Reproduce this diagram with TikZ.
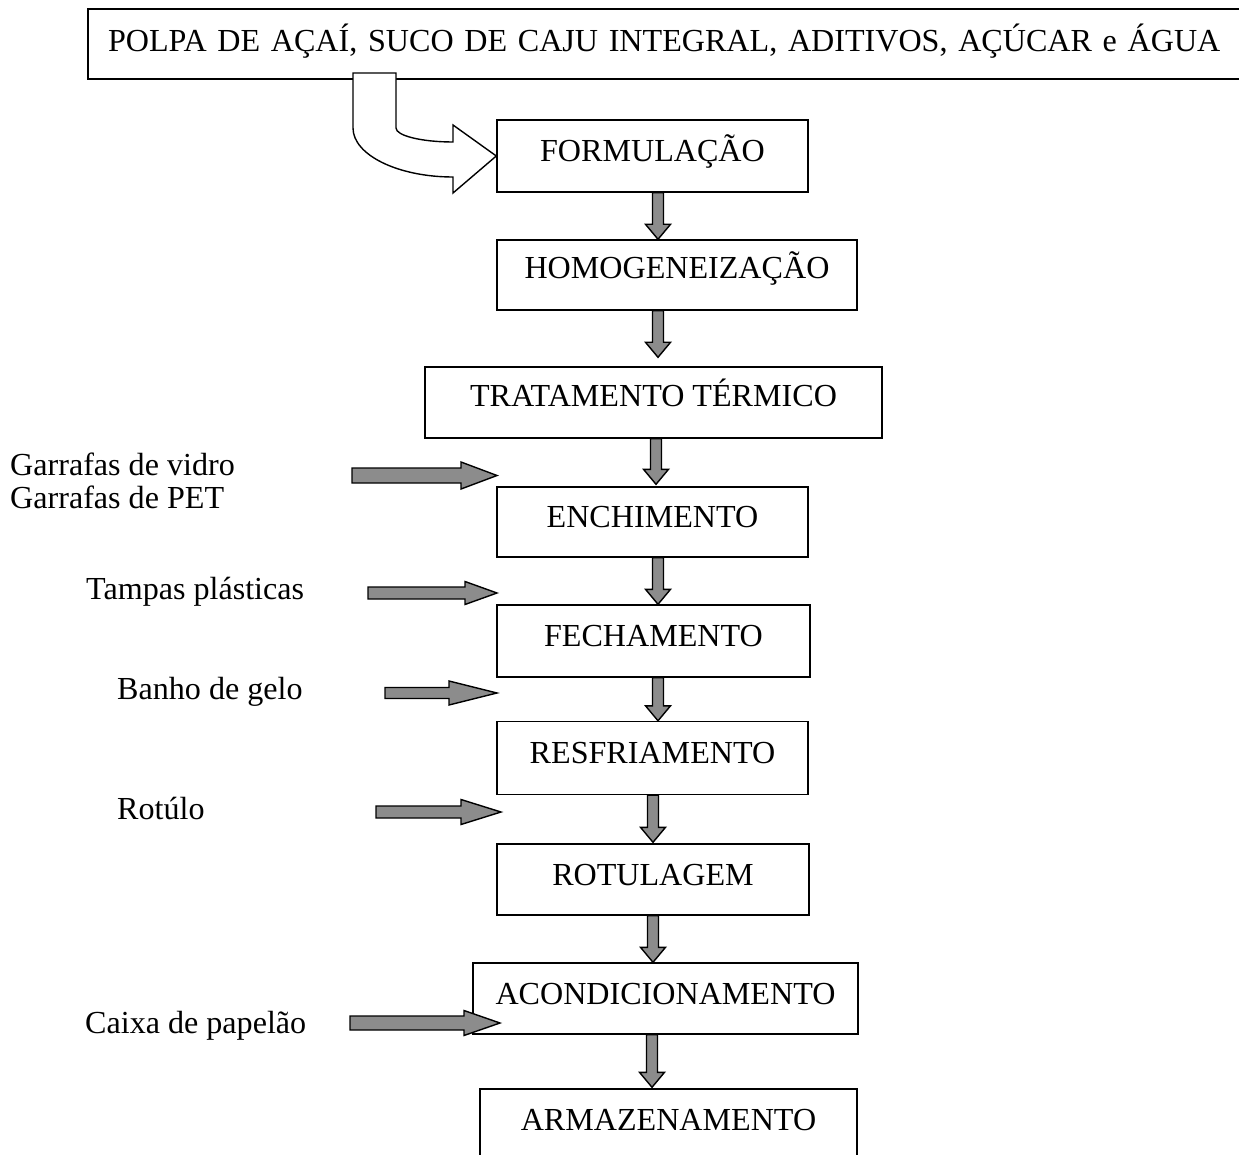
\documentclass[tikz,border=0pt]{standalone}
\usepackage{fontspec}
\setmainfont{Liberation Serif}
\usetikzlibrary{calc}
\definecolor{arrgray}{RGB}{140,140,140}
\newcommand\DnArr[4]{%
 \filldraw[blockarr] let \p1=(#2.south), \p2=(#3.north) in
 (#1pt-5.5pt,\y1) -- (#1pt+5.5pt,\y1) -- (#1pt+5.5pt,\y2+15pt+#4pt) -- (#1pt+12.5pt,\y2+15pt+#4pt)
 -- (#1pt,\y2+#4pt) -- (#1pt-12.5pt,\y2+15pt+#4pt) -- (#1pt-5.5pt,\y2+15pt+#4pt) -- cycle;}
\newcommand\RtArr[6]{% tailx tipx y shafthalf headhalf headlen
 \coordinate (tl) at (#1,#3); \coordinate (tp) at (#2,#3);
 \filldraw[blockarr] (#1,#3-#4) -- (#2-#6,#3-#4) -- (#2-#6,#3-#5) -- (tp)
 -- (#2-#6,#3+#5) -- (#2-#6,#3+#4) -- (#1,#3+#4) -- cycle;}
\begin{document}
\begin{tikzpicture}[x=1pt,y=-1pt,
 every node/.style={font=\fontsize{32.1}{38}\selectfont},
 box/.style={draw,line width=1.4pt,inner sep=0pt,text height=22pt,text depth=11pt},
 lbl/.style={anchor=west,inner sep=0pt,align=left,text height=22pt,text depth=0pt},
 blockarr/.style={fill=arrgray,draw=black,line width=1.4pt,line join=miter}]
\useasboundingbox (0,0) rectangle (1239,1155);
% boxes
\node[box,minimum width=1157pt,minimum height=70pt,text width=1117pt,align=left,text depth=6.6pt] (top) at (666.5,44) {POLPA DE AÇAÍ, SUCO DE CAJU INTEGRAL, ADITIVOS, AÇÚCAR e ÁGUA};
\node[box,minimum width=311pt,minimum height=72pt] (form) at (652.5,156) {FORMULAÇÃO};
\node[box,minimum width=360pt,minimum height=70pt,text depth=14pt] (homo) at (677,275) {HOMOGENEIZAÇÃO};
\node[box,minimum width=457pt,minimum height=71pt,text depth=14pt] (trat) at (653.5,402.5) {TRATAMENTO TÉRMICO};
\node[box,minimum width=311pt,minimum height=70pt] (ench) at (652.5,522) {ENCHIMENTO};
\node[box,minimum width=313pt,minimum height=72pt] (fech) at (653.5,641) {FECHAMENTO};
\node[box,minimum width=311pt,minimum height=73pt] (resf) at (652.5,758) {RESFRIAMENTO};
\node[box,minimum width=312pt,minimum height=71pt] (rotu) at (653,879.5) {ROTULAGEM};
\node[box,minimum width=385pt,minimum height=71pt] (acon) at (665.5,998.5) {ACONDICIONAMENTO};
\node[box,minimum width=377pt,minimum height=72pt] (arma) at (668.5,1125) {ARMAZENAMENTO};
% curved input arrow
\filldraw[fill=white,draw=black,line width=1.4pt,line join=miter]
 (353,73) -- (396,73) -- (396,128) .. controls (396,135.7) and (421.5,142) .. (453,142)
 -- (453,125) -- (form.west) -- (453,193) -- (453,177)
 .. controls (398,177) and (353,155) .. (353,128) -- cycle;
% down arrows
\DnArr{658}{form}{homo}{0}
\DnArr{658}{homo}{trat}{9}
\DnArr{656}{trat}{ench}{2}
\DnArr{658}{ench}{fech}{0}
\DnArr{658}{fech}{resf}{0}
\DnArr{653}{resf}{rotu}{1}
\DnArr{653}{rotu}{acon}{0}
\DnArr{652}{acon}{arma}{1}
% side inputs
\node[lbl,font=\fontsize{32.1}{33}\selectfont] (garr) at (10,497.5) {Garrafas de vidro\\Garrafas de PET};
\node[lbl] (tamp) at (86,588) {Tampas plásticas};
\node[lbl] (banh) at (117,688) {Banho de gelo};
\node[lbl] (rotl) at (117,808) {Rotúlo};
\node[lbl] (caix) at (85,1022) {Caixa de papelão};
\RtArr{352}{497}{475.5}{7.5}{13.5}{36}
\RtArr{368}{497}{593}{6}{11.5}{32}
\RtArr{385}{497}{693}{5.5}{12}{48}
\RtArr{376}{501}{812}{6}{12.5}{40}
\RtArr{350}{500}{1023}{7}{12.5}{36}
\end{tikzpicture}
\end{document}
